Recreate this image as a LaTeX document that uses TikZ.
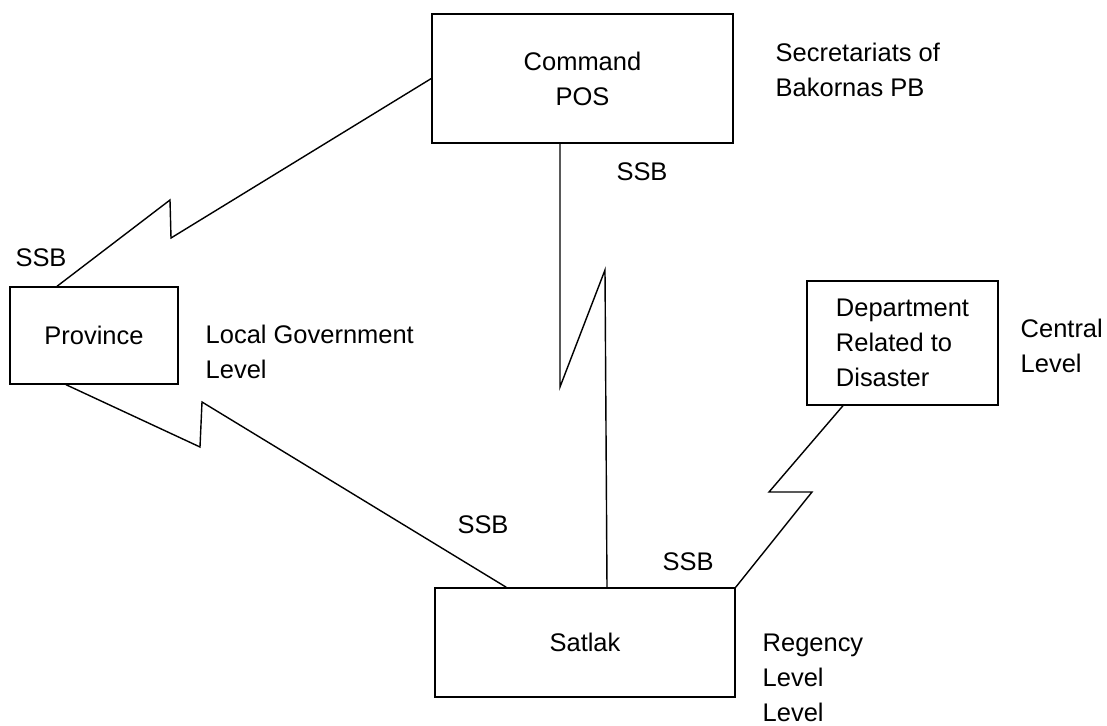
\documentclass[tikz,border=0pt]{standalone}
\usepackage{fontspec}
\setmainfont{Liberation Sans}
\usetikzlibrary{calc,positioning}

\begin{document}
\begin{tikzpicture}[x=0.02cm,y=-0.02cm,line width=0.8pt,
	every node/.style={font=\fontsize{14.5}{20}\selectfont},
	unit/.style={draw,rectangle,inner sep=0pt,align=center},
	level/.style={anchor=west,inner sep=0pt,align=left},
	ssb/.style={inner sep=0pt}]
	\useasboundingbox (0,0) rectangle (1107,726);
	% boxes
	\node[unit,minimum width=6.02cm,minimum height=2.58cm] (cmd) at (582.5,78.5) {Command\\POS};
	\node[unit,minimum width=3.36cm,minimum height=1.94cm] (prov) at (94,335.5) {Province};
	\node[unit,minimum width=6cm,minimum height=2.18cm] (sat) at (585,642.5) {Satlak};
	\node[unit,align=left,minimum width=3.82cm,minimum height=2.48cm] (dept) at (902.5,343) {Department\\Related to\\Disaster};
	% levels
	\node[level] (sec) at (775,70) {Secretariats of\\Bakornas PB};
	\node[level] (loc) at (205,352) {Local Government\\Level};
	\node[level] (cen) at (1020,346) {Central\\Level};
	\node[level] (reg) at (762,678) {Regency\\Level\\Level};
	% radio links
	\coordinate (a1) at (171,238);
	\coordinate (a2) at (170,200);
	\draw (cmd.west) -- (a1) -- (a2) -- ($(prov.north)+(-37,0)$);
	\coordinate (b1) at (200,447);
	\coordinate (b2) at (202,402);
	\draw ($(prov.south)+(-28,0)$) -- (b1) -- (b2) -- ($(sat.north west)+(72,0)$);
	\coordinate (c1) at (560,387);
	\coordinate (c2) at (605,270);
	\draw ($(cmd.south)+(-22.5,0)$) -- (c1) -- (c2) -- ($(sat.north)+(22,0)$);
	\coordinate (d1) at (769,492);
	\coordinate (d2) at (812,492);
	\draw ($(dept.south)+(-59.5,0)$) -- (d1) -- (d2) -- (sat.north east);
	% SSB
	\node[ssb] (s1) at (41,258) {SSB};
	\node[ssb] (s2) at (642,172) {SSB};
	\node[ssb] (s3) at (483,525) {SSB};
	\node[ssb] (s4) at (688,562) {SSB};
\end{tikzpicture}
\end{document}
